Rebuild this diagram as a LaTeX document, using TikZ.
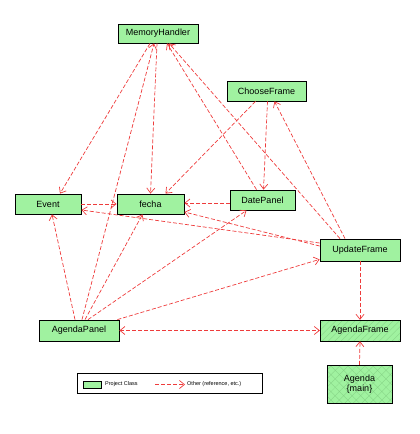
\documentclass[tikz,border=0pt]{standalone}
\usepackage{fontspec}
\setmainfont{Liberation Sans}
\usetikzlibrary{arrows.meta,calc,patterns.meta}
\definecolor{pg}{RGB}{160,242,160}
\definecolor{hatch}{RGB}{135,212,135}
\definecolor{dep}{RGB}{238,60,60}
\begin{document}
\begin{tikzpicture}[x=1pt,y=-1pt,
  cls/.style={draw=black,line width=0.8pt,fill=pg,inner sep=0pt,font=\fontsize{9}{10}\selectfont},
  dep/.style={draw=dep,line width=0.7pt,dash pattern=on 4pt off 2pt,-{Straight Barb[length=5pt,width=8pt,line width=0.7pt]}},
  bidep/.style={dep,{Straight Barb[length=5pt,width=8pt,line width=0.7pt]}-{Straight Barb[length=5pt,width=8pt,line width=0.7pt]}}]
\useasboundingbox (0,0) rectangle (420,434);
\node[cls,minimum width=80pt,minimum height=19pt] (mh) at (158,33.5) {MemoryHandler};
\node[cls,minimum width=79pt,minimum height=20pt] (cf) at (266.5,91) {ChooseFrame};
\node[cls,minimum width=66pt,minimum height=20pt] (ev) at (48,204) {Event};
\node[cls,minimum width=67pt,minimum height=20pt] (fe) at (150.5,204) {fecha};
\node[cls,minimum width=65pt,minimum height=20pt] (dp) at (262.5,200) {DatePanel};
\node[cls,minimum width=80pt,minimum height=22pt] (uf) at (360,250) {UpdateFrame};
\node[cls,minimum width=80pt,minimum height=21pt] (ap) at (79,330.5) {AgendaPanel};
\node[cls,minimum width=80pt,minimum height=21pt,preaction={fill=pg},pattern={Lines[angle=45,distance=4.5pt,line width=0.35pt]},pattern color=hatch] (af) at (360,330.5) {AgendaFrame};
\node[cls,minimum width=65pt,minimum height=38pt,align=center,preaction={fill=pg},pattern={Hatch[angle=45,distance=6pt,line width=0.35pt]},pattern color=hatch] (ag) at (359.5,384) {Agenda\\\{main\}};
% edges
\draw[dep] ($(mh.south)+(-8,0)$) -- ($(ev.north)+(12,0)$);
\draw[dep] ($(mh.south)+(-1,0)$) -- (fe.north);
\draw[dep] ($(ap.north)+(3,0)$) -- ($(mh.south)+(-4,0)$);
\draw[dep] ($(dp.north)+(-6,0)$) -- ($(mh.south)+(9,0)$);
\draw[dep] ($(uf.north)+(-20,0)$) -- ($(mh.south)+(11,0)$);
\draw[dep] ($(cf.south)+(-11,0)$) -- ($(fe.north)+(15,0)$);
\draw[dep] ($(cf.south)+(1,0)$) -- ($(dp.north)+(1,0)$);
\draw[dep] ($(uf.north)+(-15,0)$) -- ($(cf.south)+(8,0)$);
\draw[dep] ($(dp.west)+(0,3)$) -- ($(fe.east)+(0,-1)$);
\draw[dep] ($(uf.west)+(0,-4)$) -- ($(fe.east)+(0,8)$);
\draw[dep] ($(uf.west)+(0,-7)$) -- ($(ev.east)+(0,6)$);
\draw[dep] (ev.east) -- (fe.west);
\draw[dep] ($(ap.north)+(-4,0)$) -- ($(ev.south)+(4,0)$);
\draw[dep] ($(ap.north)+(6,0)$) -- ($(fe.south)+(-8,0)$);
\draw[dep] ($(ap.north)+(9,0)$) -- ($(dp.south)+(-16,0)$);
\draw[dep] ($(ap.north east)+(-2,0)$) -- ($(uf.south west)+(0,-2)$);
\draw[bidep] (ap.east) -- (af.west);
\draw[dep] (uf.south) -- (af.north);
\draw[dep] (ag.north) -- (af.south);
% legend
\node[draw=black,line width=0.8pt,minimum width=185pt,minimum height=20pt,inner sep=0pt] (lg) at (169.5,383) {};
\node[draw=black,line width=0.6pt,fill=pg,minimum width=18pt,minimum height=7pt,inner sep=0pt] (sw) at (92,384.5) {};
\node[anchor=west,inner sep=0pt,font=\fontsize{5.5}{6}\selectfont] (l1) at (105,384.5) {Project Class};
\coordinate (la) at (155,384.5);
\coordinate (lb) at (185,384.5);
\draw[dep] (la) -- (lb);
\node[anchor=west,inner sep=0pt,font=\fontsize{5.5}{6}\selectfont] (l2) at (187,384.5) {Other (reference, etc.)};
\end{tikzpicture}
\end{document}
